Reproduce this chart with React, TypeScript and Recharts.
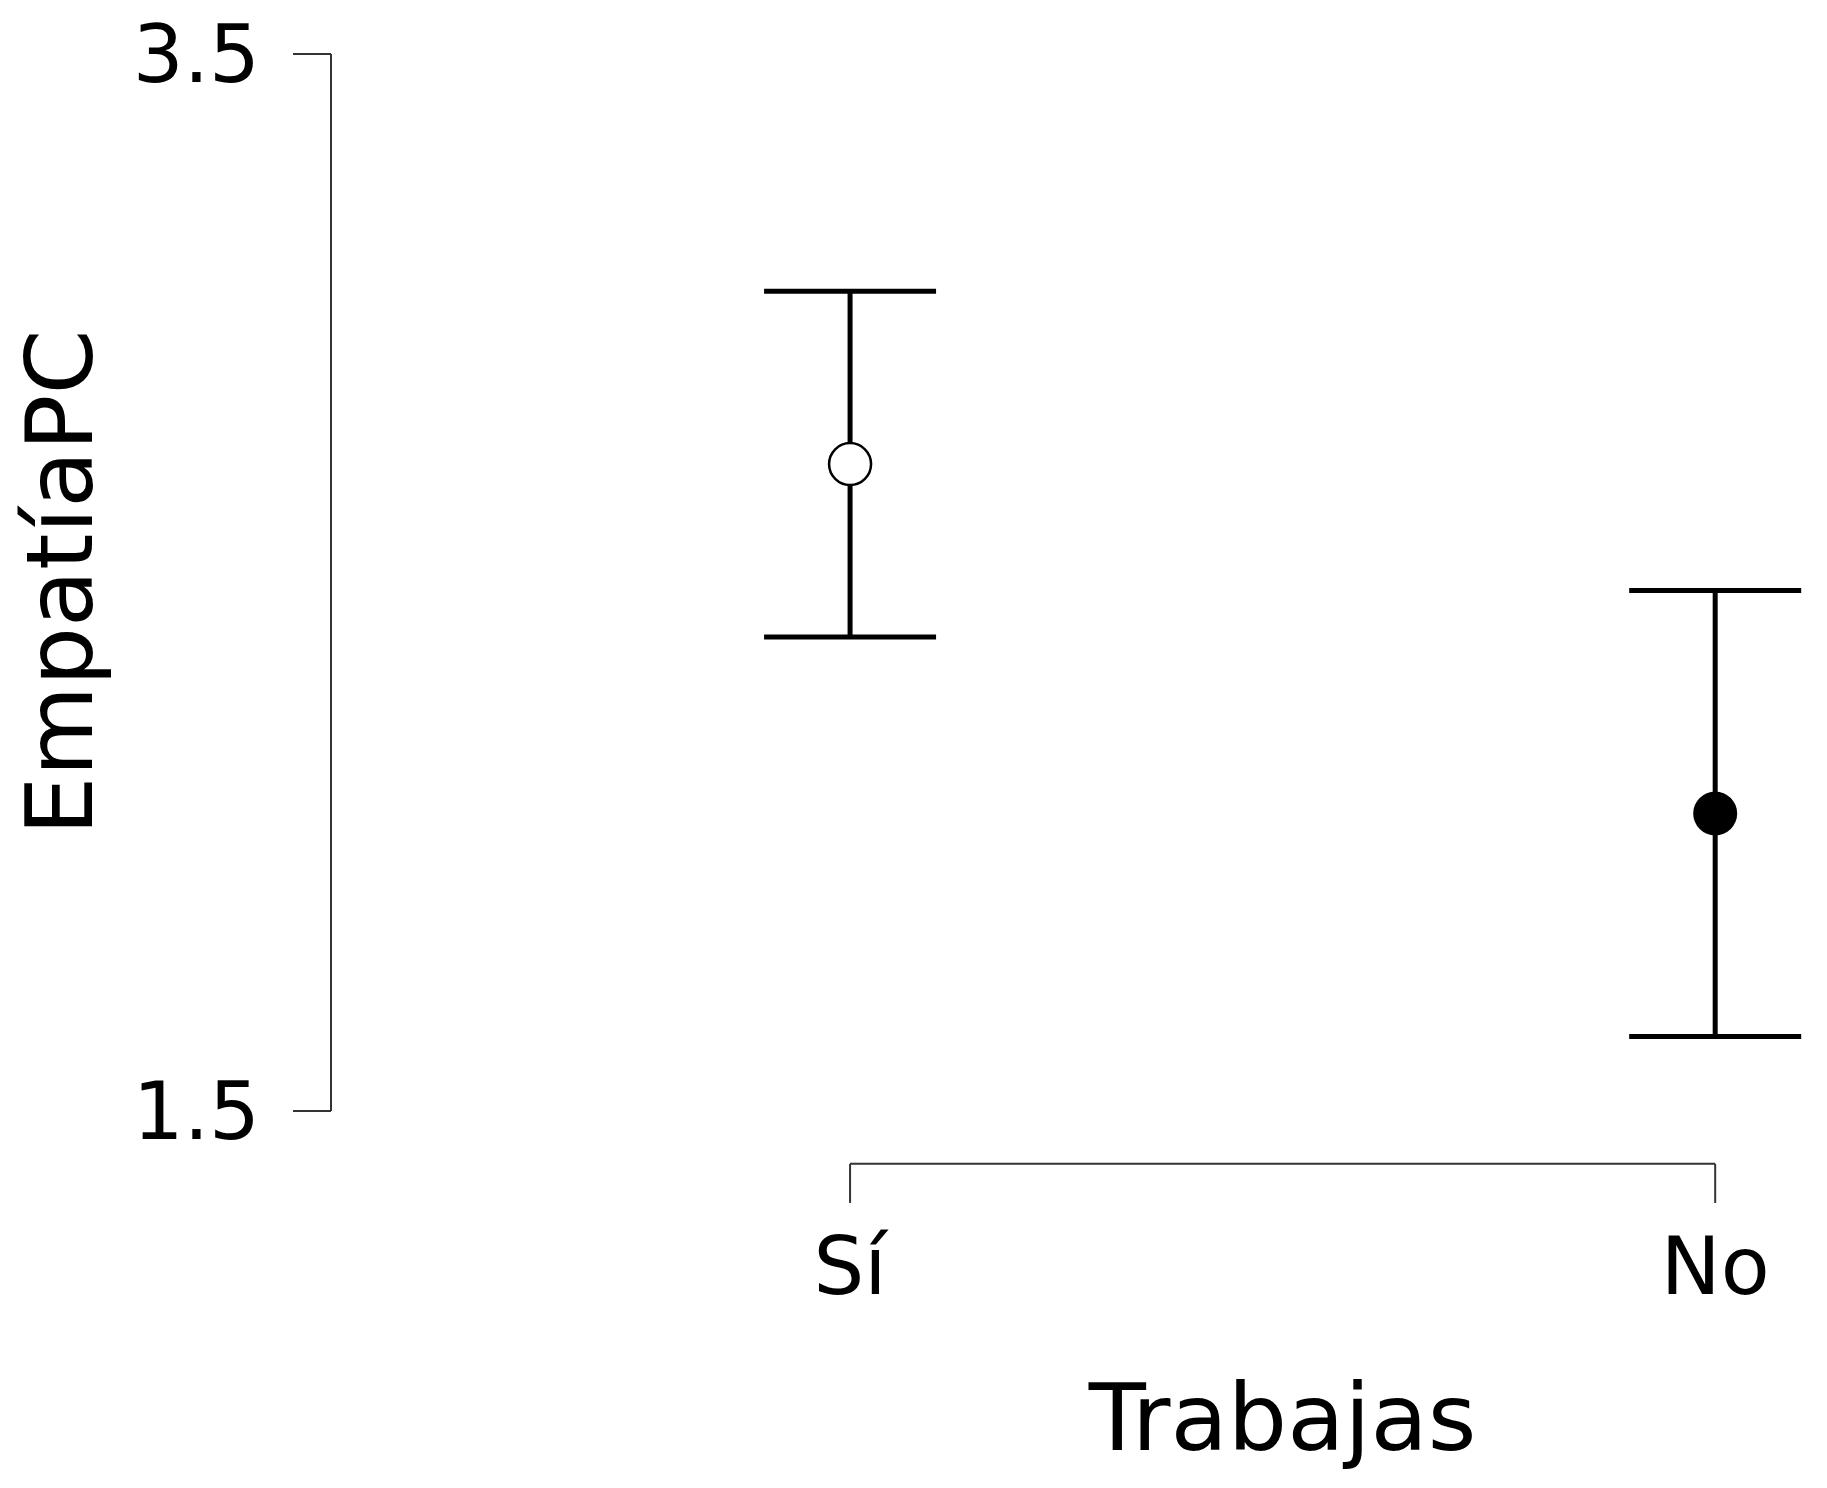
import {
  ScatterChart,
  Scatter,
  XAxis,
  YAxis,
  ErrorBar,
  ReferenceLine,
} from "recharts";

// group means with their error half-widths
const categories = ["Sí", "No"];
const means = [2.724, 2.063];
const errors = [0.327, 0.422];
const yTicks = [1.5, 3.5];
const xTicks = [1, 2];

const rows = categories.map((label, i) => ({
  x: i + 1,
  label,
  mean: means[i],
  err: errors[i],
}));

// detached x-axis bracket (R style), in y data units below the plot
const BRACKET_Y = 1.4;
const BRACKET_TICK_END = 1.326;

const AXIS_COLOR = "#333";

const XTick = (props: any) => {
  const { x, y, payload } = props;
  return (
    <text x={x} y={y + 183} textAnchor="middle" fontSize={80} fill="#000">
      {categories[payload.value - 1]}
    </text>
  );
};

const YTitle = (props: any) => {
  const { viewBox } = props;
  const cy = viewBox.y + viewBox.height / 2;
  return (
    <text
      x={92}
      y={cy}
      transform={`rotate(-90 92 ${cy})`}
      textAnchor="middle"
      fontSize={93}
      fill="#000"
    >
      EmpatíaPC
    </text>
  );
};

const OpenDot = (props: any) => (
  <circle cx={props.cx} cy={props.cy} r={21} fill="#fff" stroke="#000" strokeWidth={2.5} />
);

const FilledDot = (props: any) => (
  <circle cx={props.cx} cy={props.cy} r={22} fill="#000" />
);

export default function App() {
  return (
    <div
      style={{
        position: "absolute",
        left: 0,
        top: 0,
        background: "#fff",
        fontFamily: "'DejaVu Sans', sans-serif",
      }}
    >
      <ScatterChart
        width={1827}
        height={1488}
        margin={{ top: 54, right: 8, bottom: 0, left: 0 }}
      >
        <XAxis
          type="number"
          dataKey="x"
          domain={[0.4, 2.12]}
          ticks={xTicks}
          interval={0}
          axisLine={false}
          tickLine={false}
          tickSize={0}
          tickMargin={0}
          height={377}
          tick={<XTick />}
        />
        <YAxis
          type="number"
          dataKey="mean"
          domain={[1.5, 3.5]}
          ticks={yTicks}
          interval={0}
          width={331}
          tickSize={38}
          tickMargin={33}
          tick={{ fontSize: 80, fill: "#000" }}
          axisLine={{ stroke: AXIS_COLOR, strokeWidth: 2 }}
          tickLine={{ stroke: AXIS_COLOR, strokeWidth: 2 }}
          tickFormatter={(v: number) => v.toFixed(1)}
          label={<YTitle />}
        />

        {/* x axis bracket */}
        <ReferenceLine
          segment={[
            { x: 1, y: BRACKET_Y },
            { x: 2, y: BRACKET_Y },
          ]}
          ifOverflow="visible"
          stroke={AXIS_COLOR}
          strokeWidth={2}
          label={{
            value: "Trabajas",
            position: "bottom",
            offset: 220,
            fontSize: 93.5,
            fill: "#000",
          }}
        />
        {xTicks.map((t) => (
          <ReferenceLine
            key={t}
            segment={[
              { x: t, y: BRACKET_Y },
              { x: t, y: BRACKET_TICK_END },
            ]}
            ifOverflow="visible"
            stroke={AXIS_COLOR}
            strokeWidth={2}
          />
        ))}

        <Scatter data={[rows[0]]} shape={<OpenDot />} isAnimationActive={false}>
          <ErrorBar
            dataKey="err"
            direction="y"
            width={86}
            stroke="#000"
            strokeWidth={5}
            isAnimationActive={false}
          />
        </Scatter>
        <Scatter data={[rows[1]]} shape={<FilledDot />} isAnimationActive={false}>
          <ErrorBar
            dataKey="err"
            direction="y"
            width={86}
            stroke="#000"
            strokeWidth={5}
            isAnimationActive={false}
          />
        </Scatter>
      </ScatterChart>
    </div>
  );
}
